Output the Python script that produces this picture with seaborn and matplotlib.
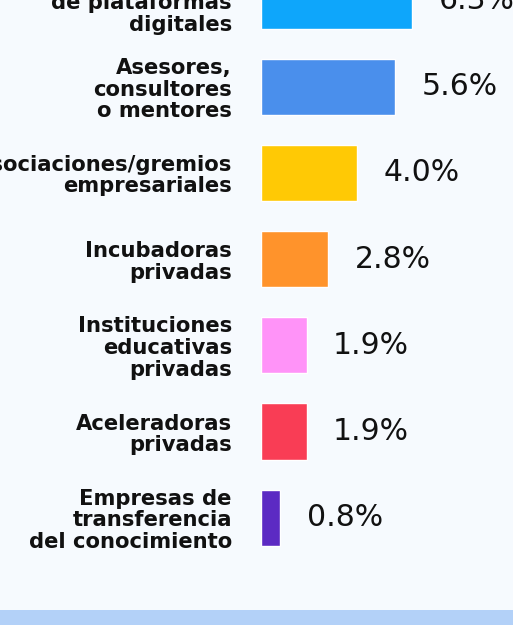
import matplotlib
matplotlib.use("Agg")
import matplotlib.pyplot as plt
import seaborn as sns
import pandas as pd
from matplotlib.patches import Rectangle

categories = [
    "Proveedores\nde plataformas\ndigitales",
    "Asesores,\nconsultores\no mentores",
    "Asociaciones/gremios\nempresariales",
    "Incubadoras\nprivadas",
    "Instituciones\neducativas\nprivadas",
    "Aceleradoras\nprivadas",
    "Empresas de\ntransferencia\ndel conocimiento",
]
values = [6.3, 5.6, 4.0, 2.8, 1.9, 1.9, 0.8]
colors = ["#0EA6FB", "#4A8FEC", "#FFC905", "#FF932B", "#FF93F8", "#F93D55", "#5C2AC3"]

BG = "#F6FAFE"
BAND = "#B3D1F8"

sns.set_theme(style="white")
plt.rcParams["font.family"] = ["DejaVu Sans"]

W, H = 513, 625
EXTRA = 60  # axes extends this many px above the (cropped) figure top
fig = plt.figure(figsize=(W / 100, H / 100), dpi=100, facecolor=BG)

# bottom band
fig.patches.append(Rectangle((0, 0), 1, 15 / H, transform=fig.transFigure,
                             facecolor=BAND, edgecolor="none", zorder=0))

ax = fig.add_axes([261 / W, 0, (W - 261) / W, (H + EXTRA) / H])
ax.set_facecolor("none")

df = pd.DataFrame({"cat": categories, "val": values})
sns.barplot(data=df, x="val", y="cat", hue="cat", palette=colors,
            legend=False, width=0.65, ax=ax, saturation=1, dodge=False)

# pixel mapping: bar centre i at 0.5 + 86.2*i px from top
px = 86.2
off = 0.5
ax.set_ylim((H - off) / px, (-EXTRA - off) / px)
ax.set_xlim(0, (W - 261) / 24.0)

for c in ax.containers:
    texts = ax.bar_label(c, fmt="%.1f%%", padding=19, fontsize=21.5,
                         color="#111111")
    for t in texts:
        t.set_va("center")

for s in ax.spines.values():
    s.set_visible(False)
ax.set_xticks([])
ax.set_xlabel("")
ax.set_ylabel("")
ax.tick_params(axis="y", length=0, pad=21)
for t in ax.get_yticklabels():
    t.set_fontsize(15.2)
    t.set_fontweight("bold")
    t.set_color("#111111")
    t.set_linespacing(1.1)
    t.set_multialignment("right")

fig.savefig("out.png", dpi=100, facecolor=BG)
